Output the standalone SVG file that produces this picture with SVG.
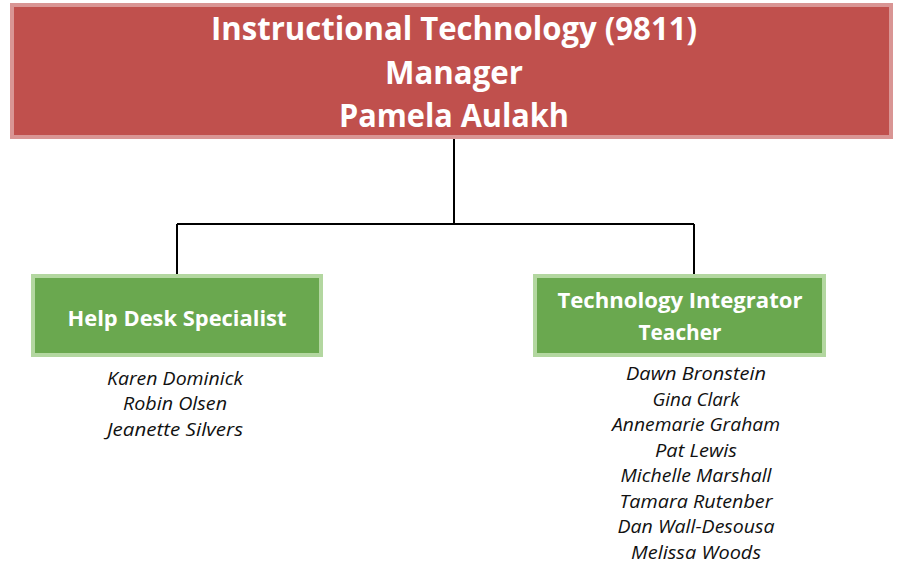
<svg xmlns="http://www.w3.org/2000/svg" width="898" height="572" viewBox="0 0 898 572">
<style>
.hd{font-family:"Open Sans","Liberation Sans",sans-serif;font-weight:bold;fill:#fff;text-anchor:middle}
.nm{font-family:"Open Sans","Liberation Sans",sans-serif;font-style:italic;font-size:19px;fill:#111;text-anchor:middle}
.gb{fill:#6aa84f;stroke:#b3d7a0;stroke-width:4}
.ln{stroke:#000;stroke-width:2;fill:none}
</style>
<rect width="898" height="572" fill="#fff"/>
<g id="connectors">
<path class="ln" d="M454 139V224M177 224H694M177 224V274M694 224V274"/>
</g>
<g id="manager">
<rect x="12" y="5" width="879" height="132" fill="#c0504d" stroke="#d99594" stroke-width="4"/>
<text class="hd" x="454" y="40" font-size="33" textLength="486" lengthAdjust="spacingAndGlyphs">Instructional Technology (9811)</text>
<text class="hd" x="454" y="84" font-size="33" textLength="138" lengthAdjust="spacingAndGlyphs">Manager</text>
<text class="hd" x="454" y="127" font-size="33" textLength="230" lengthAdjust="spacingAndGlyphs">Pamela Aulakh</text>
</g>
<g id="helpdesk">
<rect class="gb" x="33" y="276" width="288" height="79"/>
<text class="hd" x="177" y="326" font-size="22" textLength="219" lengthAdjust="spacingAndGlyphs">Help Desk Specialist</text>
<text class="nm" x="175" y="385" textLength="136" lengthAdjust="spacingAndGlyphs">Karen Dominick</text>
<text class="nm" x="175" y="410" textLength="104" lengthAdjust="spacingAndGlyphs">Robin Olsen</text>
<text class="nm" x="175" y="436" textLength="136" lengthAdjust="spacingAndGlyphs">Jeanette Silvers</text>
</g>
<g id="integrator">
<rect class="gb" x="535" y="276" width="289" height="79"/>
<text class="hd" x="680" y="308" font-size="22" textLength="245" lengthAdjust="spacingAndGlyphs">Technology Integrator</text>
<text class="hd" x="680" y="340" font-size="22" textLength="83" lengthAdjust="spacingAndGlyphs">Teacher</text>
<text class="nm" x="696" y="380" textLength="140" lengthAdjust="spacingAndGlyphs">Dawn Bronstein</text>
<text class="nm" x="696" y="406" textLength="87" lengthAdjust="spacingAndGlyphs">Gina Clark</text>
<text class="nm" x="696" y="431" textLength="168" lengthAdjust="spacingAndGlyphs">Annemarie Graham</text>
<text class="nm" x="696" y="457" textLength="82" lengthAdjust="spacingAndGlyphs">Pat Lewis</text>
<text class="nm" x="696" y="482" textLength="151" lengthAdjust="spacingAndGlyphs">Michelle Marshall</text>
<text class="nm" x="696" y="508" textLength="153" lengthAdjust="spacingAndGlyphs">Tamara Rutenber</text>
<text class="nm" x="696" y="533" textLength="157" lengthAdjust="spacingAndGlyphs">Dan Wall-Desousa</text>
<text class="nm" x="696" y="559" textLength="130" lengthAdjust="spacingAndGlyphs">Melissa Woods</text>
</g>
</svg>
